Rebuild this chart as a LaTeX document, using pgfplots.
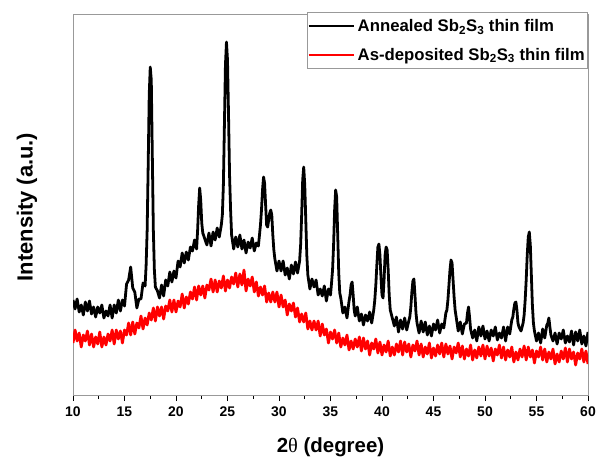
\documentclass[border=0pt]{standalone}
\usepackage{pgfplots}
\pgfplotsset{compat=1.18}
\usepackage{fontspec}
\setmainfont{Liberation Sans}
\newfontfamily\symf{Liberation Serif}
\begin{document}
\begin{tikzpicture}
\useasboundingbox (-73bp,-62bp) rectangle (529bp,395bp);
\begin{axis}[
  at={(0,0)}, anchor=south west,
  scale only axis, width=515bp, height=381bp,
  xmin=10, xmax=60, ymin=0, ymax=381,
  xtick={10,15,...,60}, minor x tick num=1,
  ytick=\empty,
  xtick align=outside,
  xtick pos=bottom,
  axis line style={gray!80, line width=0.8pt},
  major tick length=6bp, minor tick length=4bp,
  every tick/.style={black, line width=0.8pt},
  tick label style={font=\bfseries\fontsize{14}{16}\selectfont},
  xticklabel style={yshift=-2bp},
  /pgf/number format/assume math mode=true,
  xlabel={2{\symf\mdseries θ} (degree)},
  xlabel style={font=\bfseries\fontsize{20.5}{22}\selectfont, at={(axis description cs:0.5,-0.1365)}, anchor=center},
  legend style={at={(1,1.005)}, anchor=north east, draw=gray!80, line width=0.6pt,
    font=\bfseries\fontsize{16.8}{18}\selectfont, inner xsep=0bp, inner ysep=5bp,
    row sep=11bp, cells={anchor=west}, nodes={inner xsep=3bp}},
  legend image code/.code={\draw[#1, line width=2pt] (-1bp,0bp) -- (44bp,0bp);},
]
\draw[black!80, line width=0.8pt] (rel axis cs:0,0) -- (rel axis cs:1,0);
\addplot[black, line width=2.8pt, line join=round] coordinates {
(10.0,95) (10.2,86) (10.4,96) (10.6,83) (10.8,90) (11.0,80) (11.2,93) (11.4,84) (11.6,94) (11.8,81)
(12.0,88) (12.2,78) (12.4,88) (12.6,82) (12.8,90) (13.0,77) (13.2,84) (13.4,79) (13.6,90) (13.8,77)
(14.0,90) (14.2,82) (14.4,95) (14.6,84) (14.8,95) (15.0,89) (15.2,111) (15.4,115) (15.6,128) (15.8,107)
(16.0,103) (16.2,87) (16.4,96) (16.6,96) (16.8,112) (17.0,109) (17.1,130) (17.2,165) (17.3,230) (17.4,300)
(17.5,328) (17.6,315) (17.7,240) (17.8,165) (17.9,125) (18.0,108) (18.2,104) (18.4,97) (18.6,110) (18.8,99)
(19.0,115) (19.2,109) (19.4,123) (19.6,113) (19.8,124) (20.0,117) (20.2,134) (20.4,128) (20.6,142) (20.8,132)
(21.0,143) (21.2,135) (21.4,148) (21.6,144) (21.8,155) (22.0,146) (22.1,165) (22.2,190) (22.3,207) (22.4,195)
(22.5,172) (22.6,162) (22.8,156) (23.0,150) (23.2,162) (23.4,149) (23.6,163) (23.8,155) (24.0,167) (24.2,158)
(24.4,170) (24.5,180) (24.6,210) (24.7,270) (24.8,330) (24.9,353) (25.0,335) (25.1,280) (25.2,220) (25.3,185)
(25.4,160) (25.6,146) (25.8,158) (26.0,148) (26.2,160) (26.4,146) (26.6,155) (26.8,142) (27.0,153) (27.2,147)
(27.4,157) (27.6,144) (27.8,152) (28.0,149) (28.2,170) (28.3,185) (28.4,205) (28.5,218) (28.6,212) (28.7,190)
(28.8,170) (28.9,168) (29.0,175) (29.1,182) (29.2,185) (29.3,180) (29.4,160) (29.5,145) (29.6,136) (29.8,124)
(30.0,134) (30.2,124) (30.4,134) (30.6,120) (30.8,127) (31.0,116) (31.2,130) (31.4,121) (31.6,133) (31.8,122)
(32.0,134) (32.1,150) (32.2,180) (32.3,215) (32.4,228) (32.5,210) (32.6,175) (32.7,140) (32.8,120) (33.0,106)
(33.2,116) (33.4,108) (33.6,115) (33.8,100) (34.0,106) (34.2,99) (34.4,109) (34.6,94) (34.8,106) (35.0,100)
(35.1,112) (35.2,125) (35.3,150) (35.4,185) (35.5,205) (35.6,198) (35.7,160) (35.8,122) (35.9,102) (36.0,97)
(36.2,82) (36.4,88) (36.6,77) (36.8,94) (36.9,100) (37.0,110) (37.1,113) (37.2,100) (37.3,85) (37.4,79)
(37.6,88) (37.8,74) (38.0,81) (38.2,70) (38.4,80) (38.6,74) (38.8,83) (39.0,72) (39.2,85) (39.3,95)
(39.4,110) (39.5,130) (39.6,148) (39.7,151) (39.8,140) (39.9,118) (40.0,100) (40.1,97) (40.2,115) (40.3,140)
(40.4,148) (40.5,145) (40.6,125) (40.7,100) (40.8,85) (41.0,77) (41.2,69) (41.4,78) (41.6,63) (41.8,75)
(42.0,66) (42.2,77) (42.4,65) (42.6,74) (42.7,78) (42.8,88) (42.9,103) (43.0,114) (43.1,116) (43.2,100)
(43.3,82) (43.4,72) (43.6,62) (43.8,74) (44.0,63) (44.2,73) (44.4,60) (44.6,69) (44.8,59) (45.0,71)
(45.2,65) (45.4,75) (45.6,62) (45.8,71) (46.0,67) (46.2,82) (46.3,85) (46.4,95) (46.5,110) (46.6,125)
(46.7,135) (46.8,132) (46.9,115) (47.0,98) (47.1,85) (47.2,78) (47.4,64) (47.6,73) (47.8,61) (48.0,71)
(48.2,72) (48.3,82) (48.4,88) (48.5,78) (48.6,66) (48.8,57) (49.0,65) (49.2,54) (49.4,68) (49.6,59)
(49.8,69) (50.0,56) (50.2,64) (50.4,54) (50.6,65) (50.8,59) (51.0,68) (51.2,55) (51.4,62) (51.6,57)
(51.8,68) (52.0,54) (52.2,68) (52.4,61) (52.6,75) (52.7,78) (52.8,86) (52.9,92) (53.0,93) (53.1,85)
(53.2,72) (53.3,68) (53.4,66) (53.5,64) (53.6,68) (53.7,72) (53.8,80) (53.9,95) (54.0,115) (54.1,140)
(54.2,158) (54.3,163) (54.4,150) (54.5,120) (54.6,90) (54.7,72) (54.8,64) (55.0,54) (55.2,62) (55.4,52)
(55.6,66) (55.8,57) (56.0,70) (56.1,72) (56.2,77) (56.3,68) (56.4,60) (56.6,54) (56.8,62) (57.0,51)
(57.2,62) (57.4,56) (57.6,65) (57.8,52) (58.0,59) (58.2,53) (58.4,64) (58.6,50) (58.8,63) (59.0,54)
(59.2,65) (59.4,51) (59.6,59) (59.8,49) (60.0,63)
};
\addlegendentry{Annealed Sb\textsubscript{2}S\textsubscript{3} thin film}
\addplot[red, line width=2.8pt, line join=round] coordinates {
(10.0,52) (10.2,65) (10.4,54) (10.6,62) (10.8,48) (11.0,60) (11.2,54) (11.4,64) (11.6,50) (11.8,61)
(12.0,48) (12.2,58) (12.4,51) (12.6,63) (12.8,48) (13.0,58) (13.2,50) (13.4,61) (13.6,54) (13.8,65)
(14.0,51) (14.2,65) (14.4,56) (14.6,64) (14.8,52) (15.0,65) (15.2,60) (15.4,72) (15.6,60) (15.8,73)
(16.0,61) (16.2,72) (16.4,67) (16.6,79) (16.8,66) (17.0,77) (17.2,70) (17.4,82) (17.6,75) (17.8,87)
(18.0,74) (18.2,88) (18.4,79) (18.6,88) (18.8,76) (19.0,89) (19.2,84) (19.4,95) (19.6,83) (19.8,95)
(20.0,83) (20.2,94) (20.4,88) (20.6,101) (20.8,87) (21.0,98) (21.2,91) (21.4,103) (21.6,96) (21.8,108)
(22.0,95) (22.2,109) (22.4,100) (22.6,109) (22.8,97) (23.0,110) (23.2,105) (23.4,116) (23.6,103) (23.8,115)
(24.0,103) (24.2,114) (24.4,107) (24.6,119) (24.8,104) (25.0,115) (25.2,107) (25.4,118) (25.6,111) (25.8,122)
(26.0,108) (26.2,121) (26.4,110) (26.6,125) (26.8,104) (27.0,116) (27.2,109) (27.4,118) (27.6,103) (27.8,113)
(28.0,99) (28.2,108) (28.4,100) (28.6,109) (28.8,93) (29.0,102) (29.2,93) (29.4,103) (29.6,93) (29.8,103)
(30.0,88) (30.2,100) (30.4,88) (30.6,95) (30.8,80) (31.0,91) (31.2,84) (31.4,92) (31.6,78) (31.8,87)
(32.0,73) (32.2,81) (32.4,73) (32.6,82) (32.8,66) (33.0,74) (33.2,65) (33.4,74) (33.6,65) (33.8,74)
(34.0,59) (34.2,71) (34.4,60) (34.6,66) (34.8,52) (35.0,63) (35.2,56) (35.4,65) (35.6,52) (35.8,62)
(36.0,48) (36.2,57) (36.4,50) (36.6,60) (36.8,45) (37.0,54) (37.2,46) (37.4,56) (37.6,48) (37.8,58)
(38.0,44) (38.2,57) (38.4,46) (38.6,54) (38.8,40) (39.0,52) (39.2,46) (39.4,56) (39.6,42) (39.8,53)
(40.0,40) (40.2,50) (40.4,43) (40.6,54) (40.8,39) (41.0,48) (41.2,40) (41.4,51) (41.6,43) (41.8,54)
(42.0,40) (42.2,53) (42.4,43) (42.6,51) (42.8,38) (43.0,50) (43.2,44) (43.4,54) (43.6,40) (43.8,51)
(44.0,38) (44.2,48) (44.4,41) (44.6,52) (44.8,37) (45.0,47) (45.2,39) (45.4,50) (45.6,41) (45.8,52)
(46.0,38) (46.2,51) (46.4,41) (46.6,49) (46.8,36) (47.0,48) (47.2,42) (47.4,52) (47.6,38) (47.8,49)
(48.0,36) (48.2,46) (48.4,39) (48.6,50) (48.8,35) (49.0,45) (49.2,37) (49.4,48) (49.6,39) (49.8,50)
(50.0,36) (50.2,49) (50.4,39) (50.6,47) (50.8,34) (51.0,46) (51.2,40) (51.4,50) (51.6,37) (51.8,48)
(52.0,35) (52.2,45) (52.4,38) (52.6,48) (52.8,33) (53.0,43) (53.2,35) (53.4,46) (53.6,38) (53.8,49)
(54.0,35) (54.2,48) (54.4,38) (54.6,45) (54.8,32) (55.0,44) (55.2,38) (55.4,48) (55.6,35) (55.8,46)
(56.0,33) (56.2,43) (56.4,36) (56.6,46) (56.8,31) (57.0,41) (57.2,33) (57.4,44) (57.6,36) (57.8,47)
(58.0,33) (58.2,46) (58.4,36) (58.6,43) (58.8,30) (59.0,42) (59.2,36) (59.4,46) (59.6,33) (59.8,44)
(60.0,31)
};
\addlegendentry{As-deposited Sb\textsubscript{2}S\textsubscript{3} thin film}
\end{axis}
\node[rotate=90, anchor=center, font=\bfseries\fontsize{22}{24}\selectfont] at (-46bp,188bp) {Intensity (a.u.)};
\end{tikzpicture}
\end{document}
